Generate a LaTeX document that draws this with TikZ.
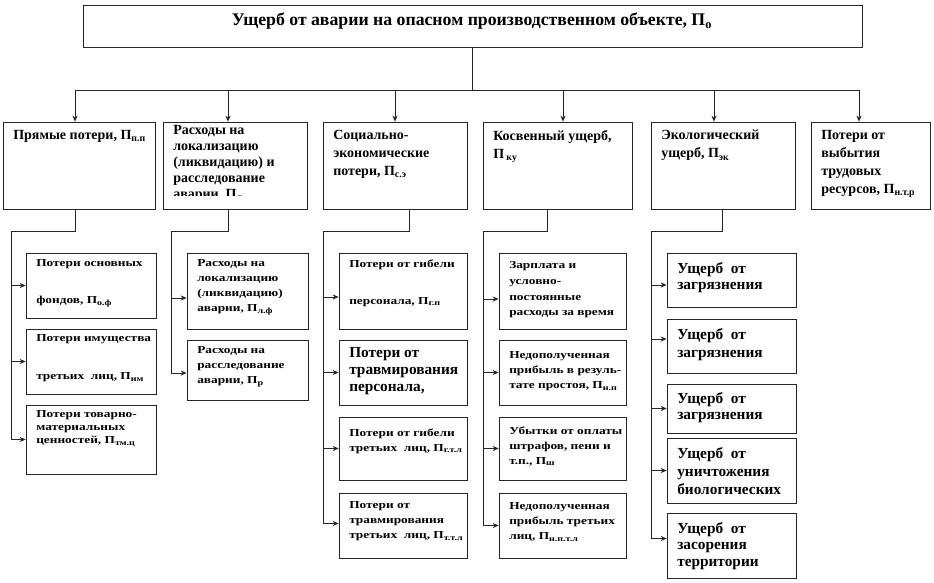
\documentclass[tikz,border=0pt]{standalone}
\usepackage{fontspec}
\setmainfont{Liberation Serif}
\newfontfamily\subfont[FakeStretch=1.25]{Liberation Serif}
\usetikzlibrary{arrows.meta,fit,calc}
\tikzset{
  ln/.style={draw=black!85, line width=0.55pt},
  bxs/.style={draw=black!85, line width=0.55pt, inner sep=0pt, rectangle},
  arr/.style={-{Stealth[length=4.5pt,width=3.8pt]}},
  txt/.style={anchor=north west, inner sep=0pt, align=left},
  hdr/.style={font=\fontsize{10.5}{#1}\selectfont\bfseries},
  hdr/.default=13.5,
  sml/.style={font=\subfont\fontsize{8}{#1}\selectfont\bfseries},
  sml/.default=11.25,
  big/.style={font=\fontsize{11.5}{#1}\selectfont\bfseries},
  big/.default=12.75,
}
\newcommand{\mybox}[8]{%
  \node[bxs, fit={(#2,#3) (#4,#5)}] (#1) {};
  \begin{scope}
    \clip (#1.north west) rectangle (#1.south east);
    \node[txt, #7] (#1t) at ({#2+10},#6) {#8};
  \end{scope}}
\newcommand{\subarrow}[3]{%
  \coordinate (#2p) at ($(#2.west)+(0,#3)$);
  \draw[ln,arr] (#1 |- #2p) -- (#2p);}
\begin{document}
\begin{tikzpicture}[x=0.75pt,y=-0.75pt]
\useasboundingbox (0,0) rectangle (934,582);
% title
\node[bxs, fit={(83,5) (862,47)}] (title) {};
\node[font=\fontsize{13.3}{15}\selectfont\bfseries, inner sep=0pt] (titlet) at (472,21)
  {Ущерб от аварии на опасном производственном объекте, П\textsubscript{о}};
% headers
\mybox{b1}{3}{122}{155}{209}{130}{hdr}{Прямые потери, П\textsubscript{п.п}}
\node[bxs, fit={(163,122) (307,209)}] (b2) {};
\begin{scope}
  \clip (163,122) rectangle (307,195);
  \node[txt, hdr=12] (b2t) at (173,125) {Расходы на\\локализацию\\(ликвидацию) и\\расследование\\аварии, П\textsubscript{л}};
\end{scope}
\mybox{b3}{323}{122}{467}{209}{130}{hdr}{Социально-\\экономические\\потери, П\textsubscript{с.э}}
\mybox{b4}{483}{122}{632}{209}{130}{hdr}{Косвенный ущерб,\\П\,\textsubscript{ку}}
\mybox{b5}{651}{122}{795}{209}{130}{hdr}{Экологический\\ущерб, П\textsubscript{эк}}
\mybox{b6}{811}{122}{930}{209}{130}{hdr}{Потери от\\выбытия\\трудовых\\ресурсов, П\textsubscript{н.т.р}}
% column 1
\mybox{c1a}{26}{253}{156}{318}{259.5}{sml=27.75}{Потери основных\\фондов, П\textsubscript{о.ф}}
\mybox{c1b}{26}{329}{156}{394}{334.5}{sml=28.5}{Потери имущества\\третьих\ \ лиц, П\textsubscript{им}}
\mybox{c1c}{26}{405}{156}{474}{410.5}{sml=9.75}{Потери товарно-\\материальных\\ценностей, П\textsubscript{тм.ц}}
% column 2
\mybox{c2a}{187}{253}{308}{329}{259.5}{sml}{Расходы на\\локализацию\\(ликвидацию)\\аварии, П\textsubscript{л.ф}}
\mybox{c2b}{187}{340}{308}{400}{346.5}{sml}{Расходы на\\расследование\\аварии, П\textsubscript{р}}
% column 3
\mybox{c3a}{339}{253}{467}{329}{259.5}{sml=27.75}{Потери от гибели\\персонала, П\textsubscript{г.п}}
\mybox{c3b}{339}{340}{467}{405}{347}{big}{Потери от\\травмирования\\персонала,}
\mybox{c3c}{339}{417}{467}{480}{428.5}{sml}{Потери от гибели\\третьих\ \ лиц, П\textsubscript{г.т.л}}
\mybox{c3d}{339}{493}{467}{558}{501.5}{sml}{Потери от\\травмирования\\третьих\ \ лиц, П\textsubscript{т.т.л}}
% column 4
\mybox{c4a}{499}{253}{626}{329}{261.5}{sml=11.7}{Зарплата и\\условно-\\постоянные\\расходы за время}
\mybox{c4b}{499}{340}{626}{405}{351.5}{sml}{Недополученная\\прибыль в резуль-\\тате простоя, П\textsubscript{н.п}}
\mybox{c4c}{499}{417}{626}{480}{426.5}{sml}{Убытки от оплаты\\штрафов, пени и\\т.п., П\textsubscript{ш}}
\mybox{c4d}{499}{493}{626}{558}{502.5}{sml}{Недополученная\\прибыль третьих\\лиц, П\textsubscript{н.п.т.л}}
% column 5
\mybox{c5a}{667}{253}{796}{307}{262}{big=12}{Ущерб\ \ от\\загрязнения}
\mybox{c5b}{667}{319}{796}{373}{328}{big=13.5}{Ущерб\ \ от\\загрязнения}
\mybox{c5c}{667}{384}{796}{433}{392}{big=12}{Ущерб\ \ от\\загрязнения}
\mybox{c5d}{667}{438}{796}{503}{447}{big=13.5}{Ущерб\ \ от\\уничтожения\\биологических}
\mybox{c5e}{667}{513}{796}{578}{522}{big=12.4}{Ущерб\ \ от\\засорения\\территории}
% top connectors
\coordinate (bus) at (475,90);
\coordinate (t1) at (75,90);
\coordinate (t2) at (228,90);
\coordinate (t3) at (395,90);
\coordinate (t4) at (563,90);
\coordinate (t5) at (714,90);
\coordinate (t6) at (859,90);
\draw[ln] (title.south) -- (title.south |- bus);
\draw[ln] (t1) -- (t6);
\foreach \i in {1,...,6} {\draw[ln,arr] (t\i) -- (t\i |- b\i.north);}
% stems and trunks
\coordinate (s1) at (75,231);  \coordinate (k1) at (11,231);
\coordinate (s2) at (228,231); \coordinate (k2) at (171,231);
\coordinate (s3) at (409,231); \coordinate (k3) at (323,231);
\coordinate (s4) at (547,231); \coordinate (k4) at (483,231);
\coordinate (s5) at (722,231); \coordinate (k5) at (651,231);
\subarrow{k1}{c1a}{0}
\subarrow{k1}{c1b}{0}
\subarrow{k1}{c1c}{0}
\subarrow{k2}{c2a}{7}
\subarrow{k2}{c2b}{3}
\subarrow{k3}{c3a}{6}
\subarrow{k3}{c3b}{0}
\subarrow{k3}{c3c}{0}
\subarrow{k3}{c3d}{-2}
\subarrow{k4}{c4a}{8}
\subarrow{k4}{c4b}{0}
\subarrow{k4}{c4c}{0}
\subarrow{k4}{c4d}{0}
\subarrow{k5}{c5a}{5}
\subarrow{k5}{c5b}{-7}
\subarrow{k5}{c5c}{0}
\subarrow{k5}{c5d}{0}
\subarrow{k5}{c5e}{-7}
\draw[ln] (s1 |- b1.south) -- (s1) -- (k1) -- (k1 |- c1cp);
\draw[ln] (s2 |- b2.south) -- (s2) -- (k2) -- (k2 |- c2bp);
\draw[ln] (s3 |- b3.south) -- (s3) -- (k3) -- (k3 |- c3dp);
\draw[ln] (s4 |- b4.south) -- (s4) -- (k4) -- (k4 |- c4dp);
\draw[ln] (s5 |- b5.south) -- (s5) -- (k5) -- (k5 |- c5ep);
\end{tikzpicture}
\end{document}
